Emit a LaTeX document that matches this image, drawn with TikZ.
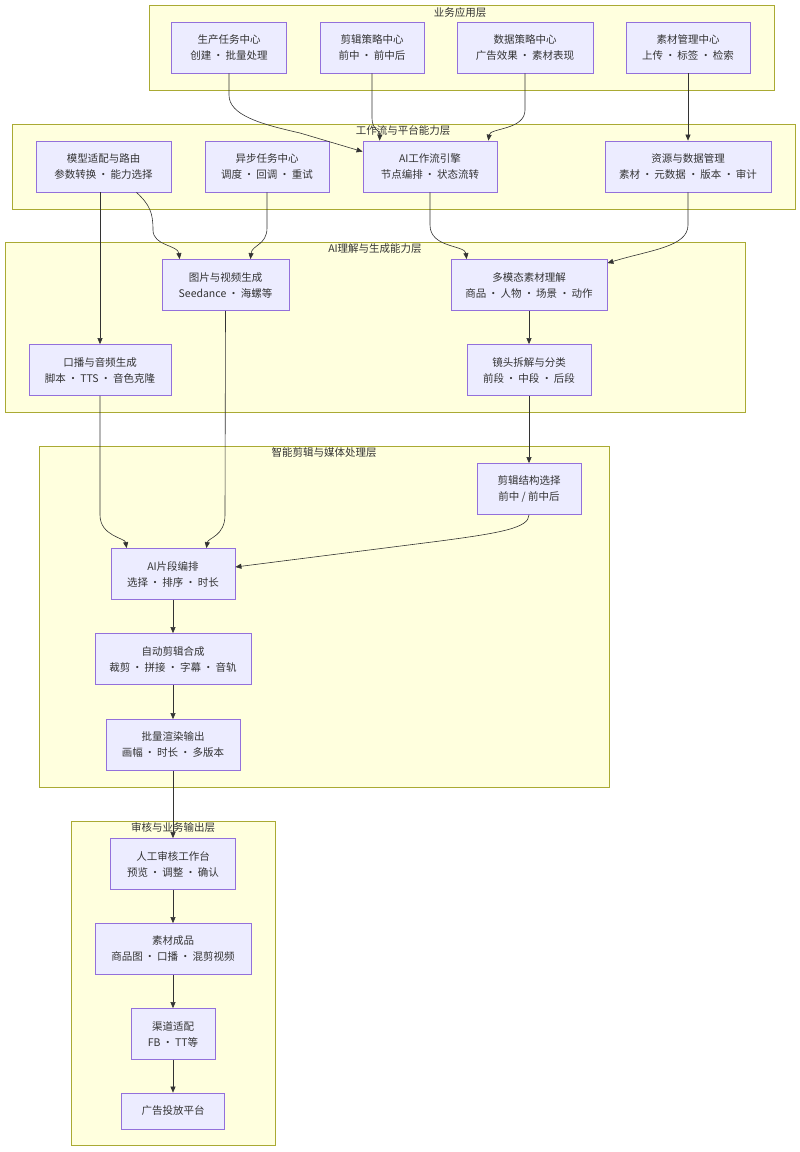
\documentclass[tikz,border=0pt]{standalone}
\usepackage{fontspec}
\setmainfont{Noto Sans CJK SC}
\usetikzlibrary{arrows.meta, positioning}

\definecolor{layerfill}{HTML}{FFFFDE}
\definecolor{layerline}{HTML}{AAAA33}
\definecolor{boxfill}{HTML}{ECECFF}
\definecolor{boxline}{HTML}{9370DB}
\definecolor{inkgray}{HTML}{333333}

\newcommand{\midsep}{\hspace{2pt}·\hspace{2pt}}

\begin{document}
\begin{tikzpicture}[
    x=1pt, y=-1pt,
    layer_style/.style={fill=layerfill, draw=layerline, line width=0.8pt},
    title_style/.style={text=inkgray, font=\fontsize{10.5}{13}\selectfont, inner sep=0pt},
    box_style/.style={rectangle, fill=boxfill, draw=boxline, line width=0.8pt,
        minimum height=51pt, inner sep=0pt, align=center, text=inkgray,
        font=\fontsize{10.5}{16}\selectfont},
    flow_style/.style={-{Triangle[length=6pt, width=5pt]}, inkgray, line width=0.6pt}
]
    \useasboundingbox (0,0) rectangle (800,1152);

    % Layers
    \draw[layer_style] (149,5) rectangle (774,90);
    \draw[layer_style] (12,124) rectangle (795,209);
    \draw[layer_style] (5,242) rectangle (745,412);
    \draw[layer_style] (39,446) rectangle (609,787);
    \draw[layer_style] (71,821) rectangle (275,1145);

    \node[title_style] (t_biz) at (460,13) {业务应用层};
    \node[title_style] (t_flow) at (403,131) {工作流与平台能力层};
    \node[title_style] (t_ai) at (375,249) {AI理解与生成能力层};
    \node[title_style] (t_edit) at (324,453) {智能剪辑与媒体处理层};
    \node[title_style] (t_out) at (173,828) {审核与业务输出层};

    % Business layer
    \node[box_style, minimum width=115pt] (prod) at (229,47.5) {生产任务中心\\创建\midsep 批量处理};
    \node[box_style, minimum width=104pt] (cutplan) at (372,47.5) {剪辑策略中心\\前中\midsep 前中后};
    \node[box_style, minimum width=136pt] (dataplan) at (525,47.5) {数据策略中心\\广告效果\midsep 素材表现};
    \node[box_style, minimum width=124pt] (assetmgr) at (688,47.5) {素材管理中心\\上传\midsep 标签\midsep 检索};

    % Workflow layer
    \node[box_style, minimum width=135pt] (router) at (103.5,166.5) {模型适配与路由\\参数转换\midsep 能力选择};
    \node[box_style, minimum width=124pt] (async) at (267,166.5) {异步任务中心\\调度\midsep 回调\midsep 重试};
    \node[box_style, minimum width=134pt] (engine) at (430,166.5) {AI工作流引擎\\节点编排\midsep 状态流转};
    \node[box_style, minimum width=166pt] (resdata) at (688,166.5) {资源与数据管理\\素材\midsep 元数据\midsep 版本\midsep 审计};

    % AI layer
    \node[box_style, minimum width=127pt] (imgvid) at (225.5,285) {图片与视频生成\\Seedance\midsep 海螺等};
    \node[box_style, minimum width=156pt] (multi) at (529,285) {多模态素材理解\\商品\midsep 人物\midsep 场景\midsep 动作};
    \node[box_style, minimum width=142pt] (voice) at (100,370) {口播与音频生成\\脚本\midsep TTS\midsep 音色克隆};
    \node[box_style, minimum width=124pt] (shot) at (529,370) {镜头拆解与分类\\前段\midsep 中段\midsep 后段};

    % Editing layer
    \node[box_style, minimum width=104pt] (struct) at (529,489) {剪辑结构选择\\前中 / 前中后};
    \node[box_style, minimum width=124pt] (clip) at (173,574) {AI片段编排\\选择\midsep 排序\midsep 时长};
    \node[box_style, minimum width=156pt] (compose) at (173,659) {自动剪辑合成\\裁剪\midsep 拼接\midsep 字幕\midsep 音轨};
    \node[box_style, minimum width=134pt] (render) at (173,745) {批量渲染输出\\画幅\midsep 时长\midsep 多版本};

    % Output layer
    \node[box_style, minimum width=125pt] (review) at (173,864) {人工审核工作台\\预览\midsep 调整\midsep 确认};
    \node[box_style, minimum width=156pt] (product) at (173,949) {素材成品\\商品图\midsep 口播\midsep 混剪视频};
    \node[box_style, minimum width=84pt] (channel) at (173,1034) {渠道适配\\FB\midsep TT等};
    \node[box_style, minimum width=103pt, minimum height=36pt] (adplat) at (173,1111) {广告投放平台};

    % Connectors
    \draw[flow_style] (prod.south) -- (229,95) .. controls (229,115) and (260,124) .. (300,133) -- ([yshift=-11pt]engine.north west);
    \draw[flow_style] (cutplan.south) -- (372,118) .. controls (372,130) and (380,130) .. ([xshift=17pt]engine.north west);
    \draw[flow_style] (dataplan.south) -- (525,110) .. controls (525,130) and (490,128) .. ([xshift=-9pt]engine.north east);
    \draw[flow_style] (assetmgr.south) -- (resdata.north);

    \draw[flow_style] (voice.north |- router.south) -- (voice.north);
    \draw[flow_style] ([xshift=33pt]router.south) .. controls (150,205) and (153,213) .. (153,230) .. controls (153,246) and (178,245) .. ([xshift=18pt]imgvid.north west);
    \draw[flow_style] (async.south) -- (267,228) .. controls (267,245) and (252,245) .. ([xshift=-39pt]imgvid.north east);
    \draw[flow_style] (engine.south) -- (430,225) .. controls (430,248) and (465,245) .. ([xshift=16pt]multi.north west);
    \draw[flow_style] (resdata.south) -- (688,225) .. controls (688,247) and (650,250) .. ([yshift=-4pt]multi.north east);

    \draw[flow_style] (multi) -- (shot);
    \draw[flow_style] (shot) -- (struct);

    \draw[flow_style] (voice.south) -- (100,515) .. controls (100,536) and (125,538) .. ([xshift=16pt]clip.north west);
    \draw[flow_style] (imgvid.south) -- (225,515) .. controls (225,536) and (208,538) .. ([xshift=-29pt]clip.north east);
    \draw[flow_style] (struct.south) .. controls (529,528) and (500,533) .. (440,541) -- ([yshift=7pt]clip.east);

    \draw[flow_style] (clip) -- (compose);
    \draw[flow_style] (compose) -- (render);
    \draw[flow_style] (render) -- (review);
    \draw[flow_style] (review) -- (product);
    \draw[flow_style] (product) -- (channel);
    \draw[flow_style] (channel) -- (adplat);

\end{tikzpicture}
\end{document}
